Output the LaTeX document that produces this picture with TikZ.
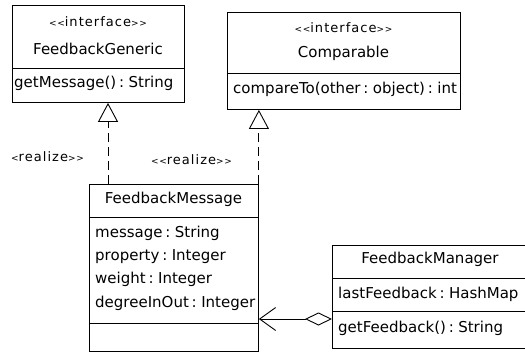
\documentclass[tikz,border=0pt]{standalone}
\usepackage{fontspec}
\setmainfont[WordSpace=0.6]{DejaVu Sans}
\newfontfamily\stfont[LetterSpace=8]{DejaVu Sans}
\usetikzlibrary{arrows.meta}
\newcommand\stlt{{\fontsize{9}{9}\selectfont<}}
\newcommand\stgt{{\fontsize{9}{9}\selectfont>}}
\begin{document}
\begin{tikzpicture}[x=1pt,y=-1pt,
  box/.style={draw, line width=0.9pt, inner sep=0pt, anchor=north west},
  txt/.style={font=\fontsize{15}{16}\selectfont, inner sep=0pt, anchor=base},
  attr/.style={txt, anchor=base west},
  st/.style={font=\stfont\fontsize{13}{14}\selectfont, inner sep=0pt, anchor=base},
  sep/.style={line width=0.9pt},
  real/.style={line width=0.9pt, dash pattern=on 9pt off 5pt, -{Triangle[open,length=19pt,width=20pt,line width=0.9pt]}},
  assoc/.style={line width=0.9pt, {Diamond[open,length=27pt,width=13pt,line width=0.9pt]}-{Straight Barb[length=16pt,width=23pt,line width=0.9pt]}}
]
\useasboundingbox (0,0) rectangle (525,353);
\fill[white] (0,0) rectangle (525,353);

% FeedbackGeneric
\node[box, minimum width=172pt, minimum height=97pt] (fg) at (12,5) {};
\node[st] (fgst) at (98,27) {\stlt\stlt interface\stgt\stgt};
\node[txt] (fgname) at (98,55) {FeedbackGeneric};
\draw[sep] (12,68) -- (184,68);
\node[attr] (fgop) at (14,88) {getMessage() : String};

% Comparable
\node[box, minimum width=233pt, minimum height=97pt] (cmp) at (227,12) {};
\node[st] (cmpst) at (343.5,33) {\stlt\stlt interface\stgt\stgt};
\node[txt] (cmpname) at (343.5,58) {Comparable};
\draw[sep] (227,73) -- (460,73);
\node[attr] (cmpop) at (233,93) {compareTo(other : object) : int};

% FeedbackMessage
\node[box, minimum width=169pt, minimum height=167pt] (fmsg) at (89,184) {};
\node[txt] (fmsgname) at (173.5,203) {FeedbackMessage};
\draw[sep] (89,217) -- (258,217);
\node[attr] (a1) at (95,237) {message : String};
\node[attr] (a2) at (95,260) {property : Integer};
\node[attr] (a3) at (95,283.5) {weight : Integer};
\node[attr] (a4) at (95,307) {degreeInOut : Integer};
\draw[sep] (89,323) -- (258,323);

% FeedbackManager
\node[box, minimum width=196pt, minimum height=103pt] (mgr) at (332,245) {};
\node[txt] (mgrname) at (430,263) {FeedbackManager};
\draw[sep] (332,278) -- (528,278);
\node[attr] (m1) at (338,298) {lastFeedback : HashMap};
\draw[sep] (332,311) -- (528,311);
\node[attr] (m2) at (338,332) {getFeedback() : String};

% realizations
\draw[real] (fmsg.north -| 108,0) -- (fg.south -| 108,0);
\draw[real] (fmsg.north east) -- (cmp.south -| fmsg.north east);
\node[st] (r1) at (47.5,161) {\stlt realize\stgt\stgt};
\node[st] (r2) at (191.5,164) {\stlt\stlt realize\stgt\stgt};

% association
\draw[assoc] (mgr.west |- 0,319) -- (fmsg.east |- 0,319);
\end{tikzpicture}
\end{document}
